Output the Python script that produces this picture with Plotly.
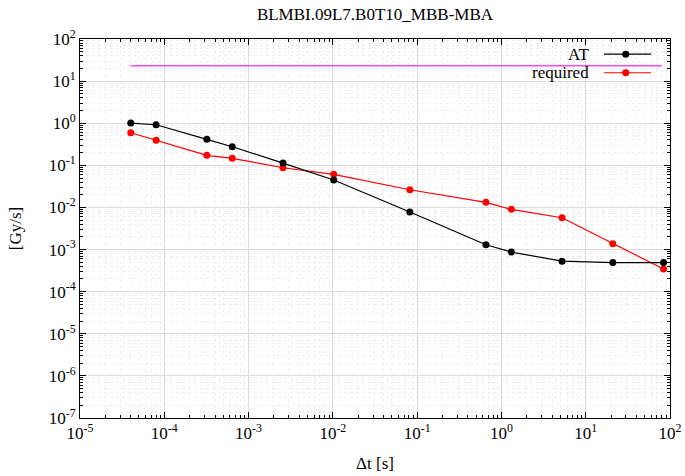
import plotly.graph_objects as go

# Running-sum integration times [s]
dt = [4e-5, 8e-5, 3.2e-4, 6.4e-4, 2.56e-3, 1.024e-2, 8.192e-2, 0.655, 1.31, 5.24, 20.97, 83.89]
at_vals = [1.01, 0.92, 0.415, 0.277, 0.113, 0.0448, 0.0078, 0.0013, 8.7e-4, 5.3e-4, 4.9e-4, 4.9e-4]
req_vals = [0.594, 0.393, 0.173, 0.147, 0.0877, 0.0611, 0.0263, 0.0132, 0.009, 0.0057, 0.00137, 3.44e-4]
limit_x = [4e-5, 80]
limit_y = [23.2, 23.2]

x_tickvals = [1e-5, 1e-4, 1e-3, 1e-2, 1e-1, 1, 10, 100]
x_ticktext = ["10<sup>-5</sup>", "10<sup>-4</sup>", "10<sup>-3</sup>", "10<sup>-2</sup>",
              "10<sup>-1</sup>", "10<sup>0</sup>", "10<sup>1</sup>", "10<sup>2</sup>"]
y_tickvals = [1e-7, 1e-6, 1e-5, 1e-4, 1e-3, 1e-2, 1e-1, 1, 10, 100]
y_ticktext = ["10<sup>-7</sup>", "10<sup>-6</sup>", "10<sup>-5</sup>", "10<sup>-4</sup>",
              "10<sup>-3</sup>", "10<sup>-2</sup>", "10<sup>-1</sup>", "10<sup>0</sup>",
              "10<sup>1</sup>", "10<sup>2</sup>"]

FONT = "'Liberation Serif', 'Times New Roman', Times, serif"
FS = 17

fig = go.Figure()
fig.add_trace(go.Scatter(x=limit_x, y=limit_y, mode="lines",
                         line=dict(color="#ff44ff", width=1.5), showlegend=False))
fig.add_trace(go.Scatter(x=dt, y=req_vals, mode="lines+markers", name="required",
                         line=dict(color="#ff0000", width=1.2),
                         marker=dict(color="#ff0000", size=7), showlegend=False))
fig.add_trace(go.Scatter(x=dt, y=at_vals, mode="lines+markers", name="AT",
                         line=dict(color="#000000", width=1.2),
                         marker=dict(color="#000000", size=7), showlegend=False))

axis_common = dict(
    type="log", showline=True, linecolor="black", linewidth=1, mirror="allticks",
    ticks="inside", ticklen=6, tickcolor="black", showgrid=True, gridcolor="#dcdcdc",
    gridwidth=1, zeroline=False, tickmode="array", automargin=False,
    minor=dict(ticks="inside", ticklen=3, tickcolor="black", dtick="D1",
               showgrid=True, gridcolor="#efefef", griddash="dot"),
    tickfont=dict(family=FONT, size=FS, color="black"),
)

fig.update_xaxes(**axis_common, range=[-5, 2], tickvals=x_tickvals, ticktext=x_ticktext,
                 title=dict(text="Δt [s]", font=dict(family=FONT, size=FS, color="black"), standoff=14))
fig.update_yaxes(**axis_common, range=[-7, 2], tickvals=y_tickvals, ticktext=y_ticktext,
                 title=dict(text="[Gy/s]", font=dict(family=FONT, size=FS, color="black"), standoff=22))

# Custom gnuplot-style legend (text left, sample right)
legend_items = [("AT", "#000000", 0.96), ("required", "#ff0000", 0.911)]
for label, color, yy in legend_items:
    fig.add_annotation(xref="paper", yref="paper", x=0.866, y=yy, text=label,
                       showarrow=False, xanchor="right", yanchor="middle",
                       font=dict(family=FONT, size=FS, color="black"))
    fig.add_shape(type="line", xref="paper", yref="paper", x0=0.888, x1=0.968, y0=yy, y1=yy,
                  line=dict(color=color, width=1.2))
    fig.add_shape(type="circle", xref="paper", yref="paper", x0=0.919, x1=0.931,
                  y0=yy - 0.009, y1=yy + 0.009, fillcolor=color, line=dict(color=color, width=0))

fig.update_layout(
    width=685, height=476,
    margin=dict(l=80, r=15, t=39, b=58),
    paper_bgcolor="white", plot_bgcolor="white",
    title=dict(text="BLMBI.09L7.B0T10_MBB-MBA", x=0.5474, xanchor="center", y=0.97, yanchor="middle",
               font=dict(family=FONT, size=FS, color="black")),
    font=dict(family=FONT, color="black"),
)

fig.write_html("out.html")
